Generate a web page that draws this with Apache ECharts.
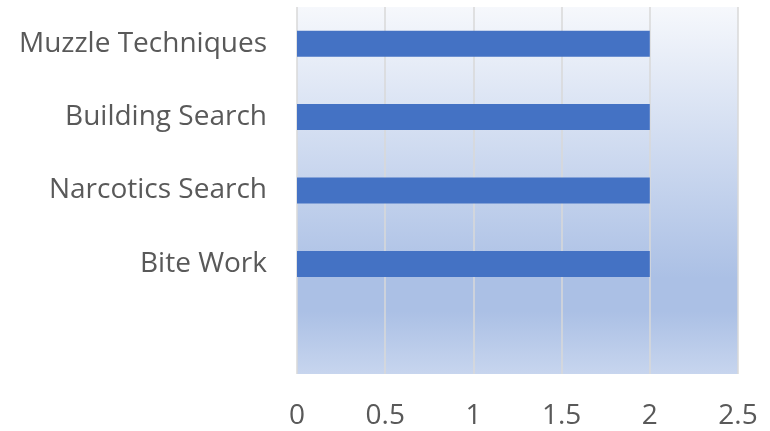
<!DOCTYPE html>
<html>
<head>
<meta charset="utf-8">
<script src="https://cdn.jsdelivr.net/npm/echarts@6/dist/echarts.min.js"></script>
<style>html,body{margin:0;padding:0;background:#fff;}#c{width:770px;height:431px;}</style>
</head>
<body>
<div id="c"></div>
<script>
const categories = ['', 'Bite Work', 'Narcotics Search', 'Building Search', 'Muzzle Techniques'];
const values = [null, 2, 2, 2, 2];
const xTicks = { min: 0, max: 2.5, interval: 0.5 };

const chart = echarts.init(document.getElementById('c'), null, { renderer: 'canvas' });
chart.setOption({
  animation: false,
  backgroundColor: '#ffffff',
  grid: {
    left: 297, right: 32, top: 7, bottom: 57,
    show: true,
    borderWidth: 0,
    backgroundColor: new echarts.graphic.LinearGradient(0, 0, 0, 1, [
      { offset: 0, color: '#f6f8fc' },
      { offset: 0.74, color: '#abc0e5' },
      { offset: 0.83, color: '#abc0e5' },
      { offset: 1, color: '#c7d5ee' }
    ])
  },
  xAxis: {
    type: 'value',
    min: xTicks.min, max: xTicks.max, interval: xTicks.interval,
    axisLine: { show: false },
    axisTick: { show: false },
    splitLine: { show: true, lineStyle: { color: '#d9d9d9', width: 1.5 } },
    axisLabel: {
      color: '#595959', fontSize: 28, fontFamily: 'Open Sans', margin: 28,
      formatter: v => String(v)
    }
  },
  yAxis: {
    type: 'category',
    data: categories,
    axisLine: { show: false },
    axisTick: { show: false },
    axisLabel: { color: '#595959', fontSize: 28, fontFamily: 'Open Sans', margin: 30 }
  },
  series: [{
    type: 'bar',
    data: values,
    barWidth: 26,
    itemStyle: { color: '#4472c4' }
  }]
});
</script>
</body>
</html>
